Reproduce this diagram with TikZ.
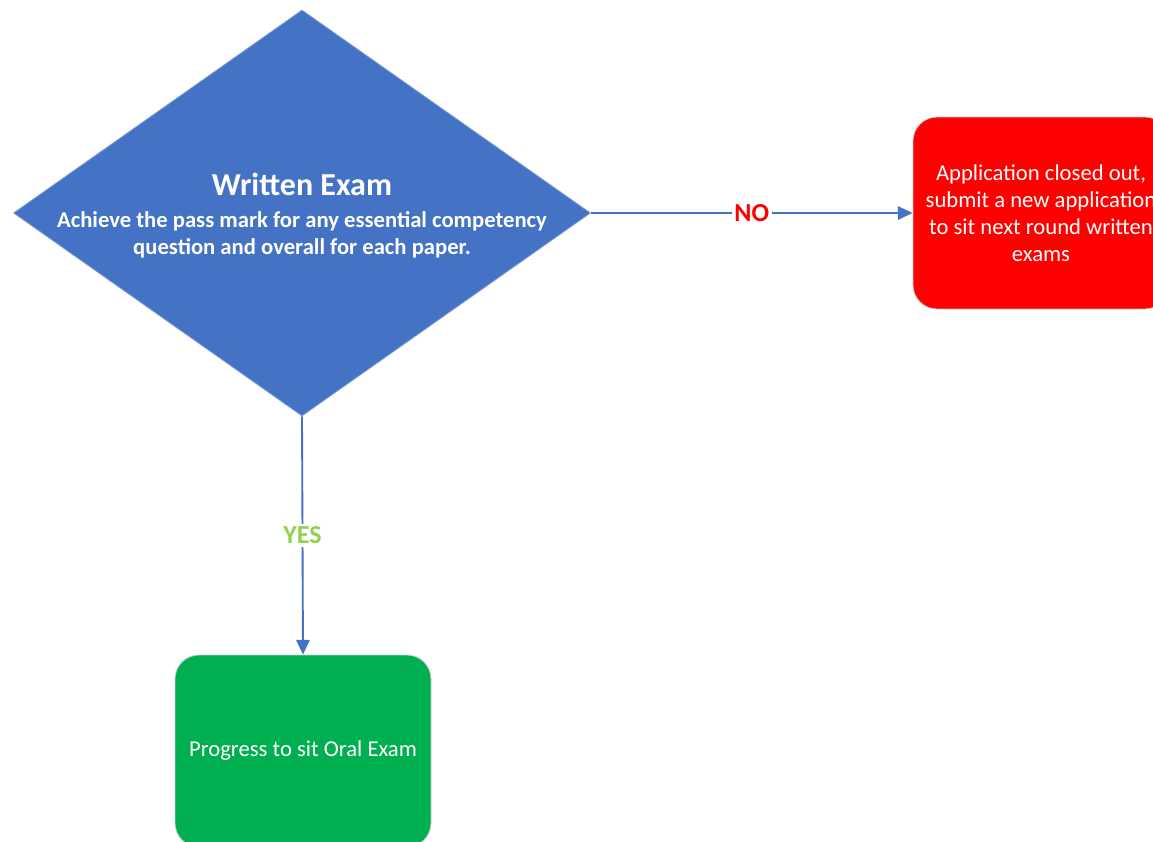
\documentclass[tikz,border=0pt]{standalone}
\usepackage{fontspec}
\setmainfont{Carlito}
\usetikzlibrary{shapes.geometric,arrows.meta}
\definecolor{ablue}{HTML}{4472C4}
\definecolor{ared}{HTML}{FF0000}
\definecolor{agreen}{HTML}{00B050}
\definecolor{ayes}{HTML}{92D050}
\tikzset{
  decision/.style={diamond, fill=ablue, draw=ablue!70!white, line width=0.6pt, inner sep=0pt,
    minimum width=432.75pt, minimum height=304.5pt},
  outbox/.style={rectangle, rounded corners=18pt, draw=gray!40, line width=0.6pt,
    minimum width=192pt, minimum height=144pt, text=white, align=center,
    font=\fontsize{17}{20.25}\selectfont},
  arr/.style={draw=ablue, line width=1.4pt, -{Triangle[length=11pt,width=10pt]}},
  lbl/.style={fill=white, inner sep=2pt, font=\bfseries\fontsize{19.5}{22}\selectfont},
  dtitle/.style={text=white, anchor=base, font=\bfseries\fontsize{24}{28}\selectfont},
  dbody/.style={text=white, anchor=base, align=center, font=\bfseries\fontsize{17}{20.25}\selectfont}
}
\begin{document}
\begin{tikzpicture}[x=0.75pt,y=-0.75pt]
\useasboundingbox (0,0) rectangle (1153,842);
\clip (0,0) rectangle (1153,842);
\node[decision] (d) at (302,213) {};
\node[dtitle] (title) at (302,195) {Written Exam};
\node[dbody] (body) at (302,254) {Achieve the pass mark for any essential competency\\question and overall for each paper.};
\node[outbox, fill=ared] (r) at (1041,213) {Application closed out,\\submit a new application\\to sit next round written\\exams};
\node[outbox, fill=agreen] (g) at (303,751) {Progress to sit Oral Exam};
\draw[arr] (d.east) -- node[lbl, text=ared] {NO} (r.west);
\draw[arr] (d.south) -- node[lbl, text=ayes] {YES} (g.north);
\end{tikzpicture}
\end{document}
